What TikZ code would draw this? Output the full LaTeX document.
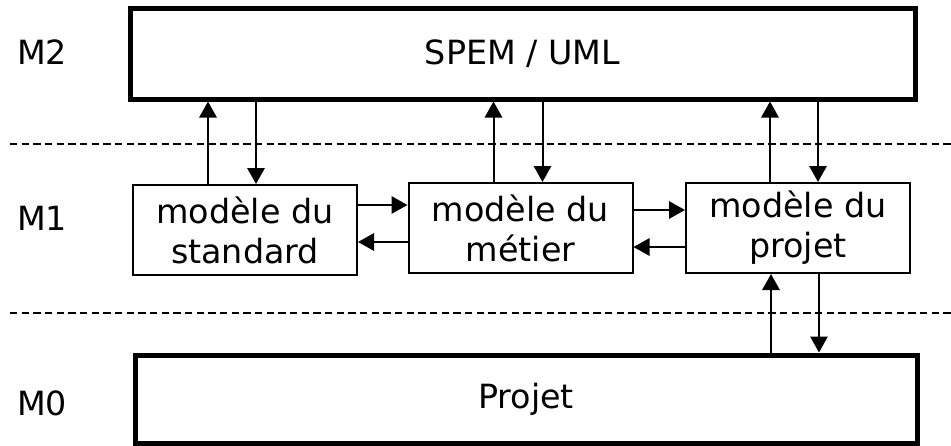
\documentclass[tikz,border=0pt]{standalone}
\usepackage{fontspec}
\setmainfont{DejaVu Sans}
\usepackage{tikz}
\usetikzlibrary{arrows.meta,positioning,calc}

\tikzset{
  bigbox/.style={draw,line width=3.75pt,inner sep=0pt,font=\fontsize{25}{30}\selectfont},
  modbox/.style={draw,line width=1.5pt,inner sep=0pt,align=center,minimum width=168pt,minimum height=67.5pt,font=\fontsize{25}{30}\selectfont},
  level/.style={font=\fontsize{25}{30}\selectfont},
  sep/.style={dashed,line width=2.2pt,dash pattern=on 5.5pt off 3.25pt},
  arr/.style={line width=1.5pt,-{Triangle[length=12pt,width=13pt]}}
}

\begin{document}
\begin{tikzpicture}[x=0.75pt,y=-0.75pt]
  \useasboundingbox (0,0) rectangle (951,446);
  % levels
  \node[level] (m2) at (42,52) {M2};
  \node[level] (m1) at (42,218) {M1};
  \node[level] (m0) at (42,403) {M0};
  \draw[sep] (10,144)--(951,144);
  \draw[sep] (10,313)--(951,313);
  % boxes
  \node[bigbox,minimum width=588.75pt,minimum height=68.25pt] (spem) at (522.5,53.5) {SPEM / UML};
  \node[modbox] (std) at (245,230) {modèle du\\standard};
  \node[modbox] (met) at (520.5,228) {modèle du\\métier};
  \node[modbox] (prj) at (798,228) {modèle du\\projet};
  \node[bigbox,minimum width=586.5pt,minimum height=66pt] (projet) at (526,399) {Projet};
  % vertical links
  \foreach \b/\u/\d in {std/-27.75pt/8.25pt,met/-20.25pt/16.5pt,prj/-21pt/15pt}{
    \draw[arr] ([xshift=\u]\b.north) -- ([xshift=\u]\b.north |- spem.south);
    \draw[arr] ([xshift=\d]\b.north |- spem.south) -- ([xshift=\d]\b.north);
  }
  \draw[arr] ([xshift=-20.25pt]prj.south |- projet.north) -- ([xshift=-20.25pt]prj.south);
  \draw[arr] ([xshift=15.75pt]prj.south) -- ([xshift=15.75pt]prj.south |- projet.north);
  % horizontal links
  \draw[arr] ([yshift=18.75pt]std.east) -- ([yshift=18.75pt]std.east -| met.west);
  \draw[arr] ([yshift=-9pt]std.east -| met.west) -- ([yshift=-9pt]std.east);
  \draw[arr] ([yshift=13.5pt]met.east) -- ([yshift=13.5pt]met.east -| prj.west);
  \draw[arr] ([yshift=-14.25pt]met.east -| prj.west) -- ([yshift=-14.25pt]met.east);
\end{tikzpicture}
\end{document}
